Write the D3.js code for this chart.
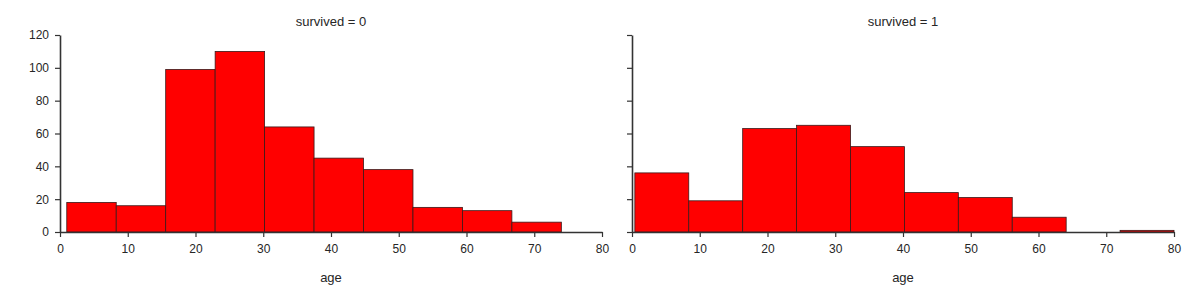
<!DOCTYPE html>
<html>
<head>
<meta charset="utf-8">
<script src="https://cdn.jsdelivr.net/npm/d3@7"></script>
<style>
  body { margin: 0; background: #fff; }
  text { font-family: "Liberation Sans", Arial, sans-serif; fill: #262626; }
</style>
</head>
<body>
<div id="chart"></div>
<script>
// bin edges and counts
const edgesDied = [1, 8.3, 15.6, 22.9, 30.2, 37.5, 44.8, 52.1, 59.4, 66.7, 74];
const countsDied = [18, 16, 99, 110, 64, 45, 38, 15, 13, 6];
const edgesSurvived = [0.42, 8.378, 16.336, 24.294, 32.252, 40.21, 48.168, 56.126, 64.084, 72.042, 80];
const countsSurvived = [36, 19, 63, 65, 52, 24, 21, 9, 0, 1];
const panelTitles = ["survived = 0", "survived = 1"];
const xTicks = [0, 10, 20, 30, 40, 50, 60, 70, 80];
const yTicks = [0, 20, 40, 60, 80, 100, 120];

const panels = [
  { title: panelTitles[0], edges: edgesDied, counts: countsDied, left: 60, labels: true },
  { title: panelTitles[1], edges: edgesSurvived, counts: countsSurvived, left: 632, labels: false }
];

const W = 1200, H = 300;
const marginTop = 35, height = 197, width = 542;

const svg = d3.select("#chart").append("svg")
  .attr("width", W)
  .attr("height", H);

const y = d3.scaleLinear().domain([0, 120]).range([height, 0]);
const x = d3.scaleLinear().domain([0, 80]).range([0, width]);

panels.forEach(function(p) {
  let g = svg.append("g").attr("transform", "translate(" + p.left + "," + marginTop + ")");

  let bins = p.counts.map(function(c, i) {
    return { x0: p.edges[i], x1: p.edges[i + 1], n: c };
  });

  // ---- BARS ----
  g.selectAll(".bar")
    .data(bins.filter(d => d.n > 0))
    .enter()
    .append("rect")
    .attr("class", "bar")
    .attr("x", d => x(d.x0))
    .attr("y", d => y(d.n))
    .attr("width", d => x(d.x1) - x(d.x0))
    .attr("height", d => height - y(d.n))
    .attr("fill", "#ff0000")
    .style("stroke", "#3a1a1a")
    .style("stroke-width", "0.8px");

  // ---- AXES ----
  let xAxis = d3.axisBottom(x).tickValues(xTicks).tickSize(5).tickPadding(7).tickSizeOuter(0);
  let yAxis = d3.axisLeft(y).tickValues(yTicks).tickSize(5).tickPadding(6).tickSizeOuter(0);
  if (!p.labels) yAxis.tickFormat("");

  let xg = g.append("g").attr("class", "x-axis axis")
    .attr("transform", "translate(0," + height + ")")
    .call(xAxis);
  let yg = g.append("g").attr("class", "y-axis axis").call(yAxis);

  [xg, yg].forEach(function(a) {
    a.select(".domain").attr("stroke", "#333").attr("stroke-width", 1.6);
    a.selectAll(".tick line").attr("stroke", "#333").attr("stroke-width", 1.2);
    a.selectAll("text").style("font-size", "12px").attr("fill", "#262626");
  });

  g.append("text")
    .attr("text-anchor", "middle")
    .attr("x", width / 2)
    .attr("y", -9)
    .text(p.title)
    .style("font-size", "13px");

  g.append("text")
    .attr("text-anchor", "middle")
    .attr("x", width / 2)
    .attr("y", height + 50)
    .text("age")
    .style("font-size", "13px");
});
</script>
</body>
</html>
